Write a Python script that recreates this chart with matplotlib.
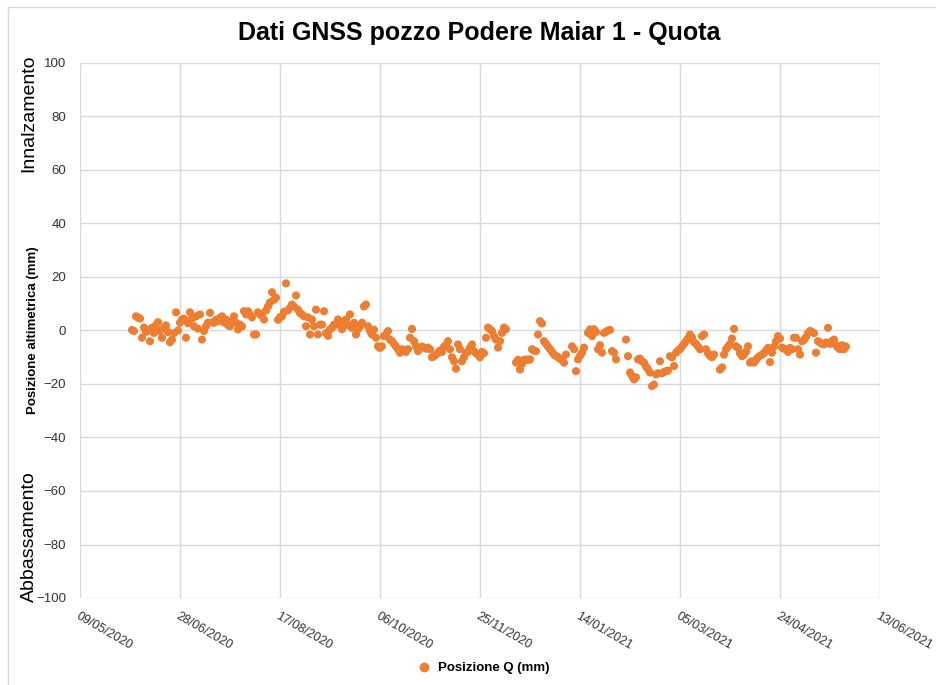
import datetime as dt
import matplotlib
matplotlib.use("Agg")
import matplotlib.pyplot as plt
import matplotlib.dates as mdates
from matplotlib.lines import Line2D

plt.rcParams['font.family'] = ['Liberation Sans', 'DejaVu Sans']

# dati: una lettura al giorno a partire dal 04/06/2020 (None = giorno mancante)
data_inizio = dt.date(2020, 6, 4)
quota = [
    0.2, -0.2, 5.3, 4.8, 4.5, -2.7, 1.1, -0.5, 0.0, -4.0,
    1.0, -0.9, 2.0, 3.1, -0.2, -2.7, 1.0, 1.9, -0.6, -4.4,
    -3.4, -1.0, 6.8, 0.0, 2.9, 4.1, 4.4, -2.7, 2.7, 6.8,
    4.5, 1.6, 5.3, 0.7, 6.0, -3.4, -0.2, 1.6, 2.9, 6.6,
    3.0, 2.9, 4.0, 3.5, 4.8, 5.3, 3.0, 4.1, 2.0, 1.6,
    3.5, 5.3, 2.9, 0.4, 2.2, 1.5, 7.2, 6.0, 7.2, 6.0,
    4.9, -1.5, -1.5, 6.8, 6.0, 5.5, 4.1, 7.5, 9.0, 10.5,
    14.3, 11.5, 12.3, 4.0, 5.0, 5.3, 7.0, 17.6, 7.5, 8.5,
    9.7, 9.0, 13.1, 7.8, 6.5, 6.0, 5.3, 1.6, 4.9, -1.5,
    4.1, 1.6, 7.8, -1.5, 2.2, 2.2, 7.2, -1.0, -2.0, 0.4,
    1.0, 2.2, 2.2, 4.1, 3.0, 0.5, 3.5, 4.1, 2.0, 6.0,
    1.0, 2.9, -1.5, 0.5, 1.6, 2.9, 9.0, 9.7, 1.6, -0.2,
    -1.5, 0.3, -2.7, -5.9, -6.5, -5.9, -2.1, -1.5, -0.2, -3.4,
    -4.0, -5.0, -6.0, -7.0, -8.3, -7.0, -7.5, -8.0, -7.0, -2.7,
    0.6, -4.0, -5.9, -7.7, -6.4, -6.0, -6.4, -6.8, -6.4, -7.0,
    -10.0, -9.6, -9.0, -8.3, -7.5, -8.0, -6.0, -5.5, -4.0, -7.0,
    -10.0, -11.5, -14.3, -5.2, -7.0, -11.5, -10.0, -8.3, -8.0, -6.4,
    -5.2, -7.7, -8.5, -9.0, -10.0, -8.0, -8.5, -2.7, 1.1, 0.5,
    -0.2, -2.1, -3.4, -6.4, -4.0, -0.9, 1.1, 0.5, None, None,
    None, None, -12.0, -11.0, -14.6, -12.5, -11.0, -10.8, -11.0, -10.8,
    -7.0, -7.5, -7.7, -1.5, 3.5, 2.6, -4.0, -5.0, -6.0, -7.0,
    -8.0, -9.0, -9.5, -10.0, -10.5, -11.0, -12.0, -9.0, None, None,
    -5.9, -7.0, -15.2, -10.8, -9.5, -8.3, -6.4, None, -0.9, 0.4,
    -2.1, 0.5, -0.5, -7.0, -5.5, -8.3, -0.9, -0.5, 0.0, 0.2,
    -7.7, -8.3, -10.8, None, None, None, None, -3.4, -9.6, -15.7,
    -17.0, -18.3, -17.5, -10.8, -10.5, -11.5, -12.0, -13.5, -14.5, -15.7,
    -20.8, -20.2, -16.4, -16.0, -11.5, -16.0, -15.5, -15.2, -15.0, -9.6,
    -10.0, -13.3, -8.3, -7.5, -7.0, -6.0, -5.0, -4.0, -3.0, -1.5,
    -2.5, -4.4, -5.0, -6.0, -7.0, -2.1, -1.5, -7.0, -8.5, -9.5,
    -10.0, -9.0, None, None, -14.6, -13.8, -9.0, -7.0, -6.0, -5.0,
    -3.0, 0.6, -5.9, -6.5, -8.5, -9.6, -9.0, -8.0, -5.9, -12.0,
    -11.5, -12.0, -11.0, -10.0, -9.5, -9.0, -8.5, -7.5, -6.5, -11.8,
    -8.3, -6.0, -4.0, -2.1, -3.0, -6.4, -6.8, -7.0, -8.0, -6.5,
    -7.0, -2.7, -2.7, -7.0, -9.0, -4.0, -3.5, -2.5, -1.0, -0.2,
    -0.5, -1.0, -8.3, -4.0, -4.5, -5.0, -5.2, -4.5, 1.0, -5.0,
    -4.0, -3.4, -5.5, -6.5, -7.0, -5.5, -7.0, -6.0,
]

# asse x: dal 09/05/2020 al 13/06/2021, un tick ogni 50 giorni
x_inizio = dt.date(2020, 5, 9)
x_tick = [x_inizio + dt.timedelta(days=50 * k) for k in range(9)]
y_tick = list(range(-100, 101, 20))

date = [data_inizio + dt.timedelta(days=i) for i, v in enumerate(quota) if v is not None]
valori = [v for v in quota if v is not None]

arancio = '#ED7D31'
griglia = '#D9D9D9'

fig = plt.figure(figsize=(9.37, 6.85), dpi=100)
ax = fig.add_axes([80 / 937, 1 - 598 / 685, 800 / 937, 535 / 685])

ax.scatter(date, valori, s=34, color=arancio, edgecolors='none', zorder=3)

ax.set_xlim(x_tick[0], x_tick[-1])
ax.set_ylim(-100, 100)
ax.set_xticks(x_tick)
ax.xaxis.set_major_formatter(mdates.DateFormatter('%d/%m/%Y'))
ax.set_yticks(y_tick)
ax.grid(True, color=griglia, linewidth=1)
ax.set_axisbelow(True)
for s in ax.spines.values():
    s.set_visible(False)
ax.tick_params(length=0, labelsize=9.5, colors='#333333')
ax.tick_params(axis='y', pad=10)
ax.tick_params(axis='x', pad=9, labelsize=9)
for lab in ax.get_xticklabels():
    lab.set_rotation(-30)
    lab.set_rotation_mode('anchor')
    lab.set_ha('left')
    lab.set_va('top')

ax.set_ylabel('Posizione altimetrica (mm)', fontsize=9.5, fontweight='bold',
              va='center')
ax.yaxis.set_label_coords((33 - 80) / 800, 0.5)

fig.text(29 / 937, 1 - 113 / 685, 'Innalzamento', rotation=90, fontsize=14,
         ha='center', va='center')
fig.text(29 / 937, 1 - 537 / 685, 'Abbassamento', rotation=90, fontsize=14,
         ha='center', va='center')

fig.suptitle('Dati GNSS pozzo Podere Maiar 1 - Quota', x=479 / 937, y=1 - 33 / 685,
             fontsize=18, fontweight='bold', va='center')

h = [Line2D([], [], marker='o', linestyle='none', color=arancio, markersize=6)]
fig.legend(h, ['Posizione Q (mm)'], loc='center', bbox_to_anchor=(480 / 937, 1 - 668 / 685),
           frameon=False, prop={'size': 9.5, 'weight': 'bold'}, handletextpad=0.1)

# cornice grigia del grafico (solo bordo sinistro e superiore visibili)
fig.add_artist(Line2D([8 / 937, 8 / 937], [0, 1 - 7 / 685], color=griglia, linewidth=1,
                      transform=fig.transFigure))
fig.add_artist(Line2D([8 / 937, 1], [1 - 7 / 685, 1 - 7 / 685], color=griglia, linewidth=1,
                      transform=fig.transFigure))

fig.savefig('out.png', dpi=100)
